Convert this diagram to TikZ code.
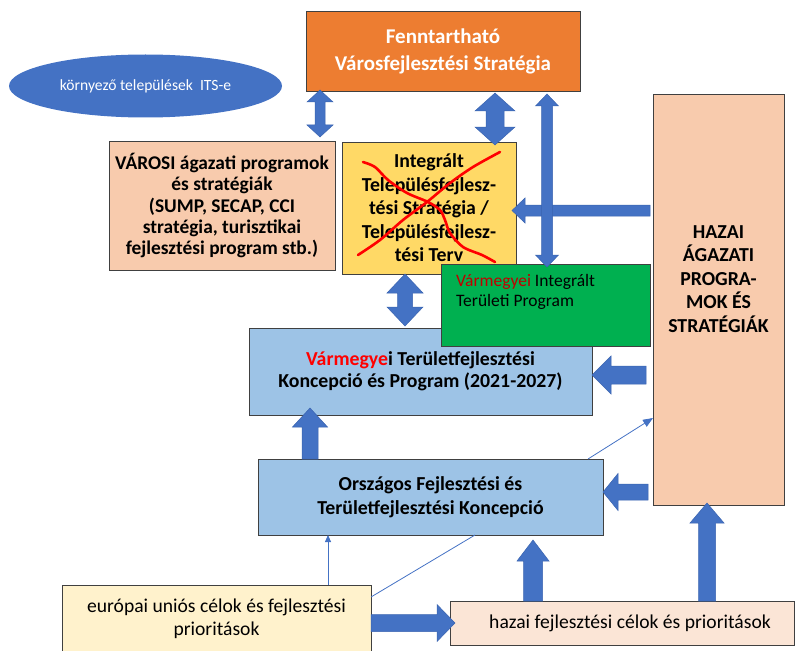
\documentclass[tikz,border=0pt]{standalone}
\usepackage{fontspec}
\setmainfont{Carlito}
\usetikzlibrary{arrows.meta,shapes.geometric,calc}

\definecolor{officeblue}{HTML}{4472C4}
\definecolor{arrowedge}{HTML}{3A64B0}
\definecolor{edgegray}{HTML}{404040}
\definecolor{orangefill}{HTML}{ED7D31}
\definecolor{peach}{HTML}{F8CBAD}
\definecolor{paleorange}{HTML}{FBE5D6}
\definecolor{gold}{HTML}{FFD966}
\definecolor{cream}{HTML}{FFF2CC}
\definecolor{skyfill}{HTML}{9DC3E6}
\definecolor{greenfill}{HTML}{00B050}
\definecolor{brightred}{HTML}{FF0000}
\definecolor{darkred}{HTML}{C00000}

\tikzset{
  ArrShaft/.store in=\ArrShaft, ArrHead/.store in=\ArrHead, ArrLen/.store in=\ArrLen,
  ArrShaft=12, ArrHead=26, ArrLen=12,
  blockfill/.style={fill=officeblue, draw=arrowedge, line width=0.5pt, line join=miter},
  % block arrow with one head, pointing at the target
  onearrow/.style={blockfill, to path={
    let \p1=(\tikztostart), \p2=(\tikztotarget),
        \n1={veclen(\x2-\x1,\y2-\y1)}, \n2={(\x2-\x1)/\n1}, \n3={(\y2-\y1)/\n1},
        \n4={\n1-\ArrLen} in
    ({\x1-(\n3)*\ArrShaft/2},{\y1+(\n2)*\ArrShaft/2})
    -- ({\x1+(\n2)*(\n4)-(\n3)*\ArrShaft/2},{\y1+(\n3)*(\n4)+(\n2)*\ArrShaft/2})
    -- ({\x1+(\n2)*(\n4)-(\n3)*\ArrHead/2},{\y1+(\n3)*(\n4)+(\n2)*\ArrHead/2})
    -- (\x2,\y2)
    -- ({\x1+(\n2)*(\n4)+(\n3)*\ArrHead/2},{\y1+(\n3)*(\n4)-(\n2)*\ArrHead/2})
    -- ({\x1+(\n2)*(\n4)+(\n3)*\ArrShaft/2},{\y1+(\n3)*(\n4)-(\n2)*\ArrShaft/2})
    -- ({\x1+(\n3)*\ArrShaft/2},{\y1-(\n2)*\ArrShaft/2}) -- cycle}},
  % block arrow with heads at both ends
  twoarrow/.style={blockfill, to path={
    let \p1=(\tikztostart), \p2=(\tikztotarget),
        \n1={veclen(\x2-\x1,\y2-\y1)}, \n2={(\x2-\x1)/\n1}, \n3={(\y2-\y1)/\n1},
        \n4={\n1-\ArrLen} in
    (\x1,\y1)
    -- ({\x1+(\n2)*\ArrLen-(\n3)*\ArrHead/2},{\y1+(\n3)*\ArrLen+(\n2)*\ArrHead/2})
    -- ({\x1+(\n2)*\ArrLen-(\n3)*\ArrShaft/2},{\y1+(\n3)*\ArrLen+(\n2)*\ArrShaft/2})
    -- ({\x1+(\n2)*(\n4)-(\n3)*\ArrShaft/2},{\y1+(\n3)*(\n4)+(\n2)*\ArrShaft/2})
    -- ({\x1+(\n2)*(\n4)-(\n3)*\ArrHead/2},{\y1+(\n3)*(\n4)+(\n2)*\ArrHead/2})
    -- (\x2,\y2)
    -- ({\x1+(\n2)*(\n4)+(\n3)*\ArrHead/2},{\y1+(\n3)*(\n4)-(\n2)*\ArrHead/2})
    -- ({\x1+(\n2)*(\n4)+(\n3)*\ArrShaft/2},{\y1+(\n3)*(\n4)-(\n2)*\ArrShaft/2})
    -- ({\x1+(\n2)*\ArrLen+(\n3)*\ArrShaft/2},{\y1+(\n3)*\ArrLen-(\n2)*\ArrShaft/2})
    -- ({\x1+(\n2)*\ArrLen+(\n3)*\ArrHead/2},{\y1+(\n3)*\ArrLen-(\n2)*\ArrHead/2})
    -- cycle}},
  box/.style={rectangle, draw=edgegray, line width=0.9pt, inner sep=0pt, outer sep=0pt,
    align=center, text=black},
  boldtext/.style={font=\fontsize{19.8}{#1}\selectfont\bfseries},
  plaintext/.style={font=\fontsize{19.6}{#1}\selectfont},
  thinline/.style={draw=officeblue, line width=0.8pt},
  thinarrow/.style={thinline, -{Triangle[length=10pt,width=8pt]}},
  thinarrowsmall/.style={thinline, -{Triangle[length=7pt,width=6pt]}},
  crossout/.style={draw=brightred, line width=2.6pt, line cap=round, line join=round},
}

\begin{document}
\begin{tikzpicture}[x=1pt,y=-1pt]
\useasboundingbox (0,0) rectangle (797,650);

% strategy boxes
\node[box, fill=orangefill, minimum width=274pt, minimum height=80pt, text=white,
      font=\fontsize{21}{27}\selectfont\bfseries] (fvs) at (443,51)
      {Fenntartható\\Városfejlesztési Stratégia};

\node[ellipse, fill=officeblue, minimum width=273pt, minimum height=63pt, inner sep=0pt,
      text=white, font=\fontsize{15.6}{18}\selectfont] (its) at (145.5,86)
      {környező települések\ \ ITS-e};

\node[box, fill=peach, minimum width=226pt, minimum height=129pt,
      font=\fontsize{19.4}{21.3}\selectfont\bfseries] (varosi) at (222,205.5)
      {VÁROSI ágazati programok\\és stratégiák\\(SUMP, SECAP, CCI\\stratégia, turisztikai\\fejlesztési program stb.)};

\node[box, fill=gold, minimum width=174pt, minimum height=132pt, boldtext=23.5] (integ) at (429,208)
      {Integrált\\Településfejlesz-\\tési Stratégia /\\Településfejlesz-\\tési Terv};

\node[box, fill=peach, minimum width=131pt, minimum height=411pt] (hz) at (718.5,299.5) {};
\node[align=center, inner sep=0pt, boldtext=23.5] (hztext) at ([yshift=20.5pt]hz.center)
      {HAZAI\\ÁGAZATI\\PROGRA-\\MOK ÉS\\STRATÉGIÁK};

\node[box, fill=skyfill, minimum width=343pt, minimum height=87pt, boldtext=22] (varm) at (420.5,371.5)
      {\textcolor{brightred}{Vármegye}i Területfejlesztési\\Koncepció és Program (2021-2027)};

\node[box, fill=skyfill, minimum width=345pt, minimum height=76pt, boldtext=24] (orsz) at (430.5,497)
      {Országos Fejlesztési és\\Területfejlesztési Koncepció};

\node[box, fill=cream, minimum width=309pt, minimum height=67pt, plaintext=23] (europ) at (216.5,618.5)
      {európai uniós célok és fejlesztési\\prioritások};

\node[box, fill=paleorange, minimum width=344pt, minimum height=44pt, plaintext=23] (hcel) at (622,623)
      {\hspace*{16pt}hazai fejlesztési célok és prioritások};

% the superseded plan is crossed out
\draw[crossout] plot[smooth] coordinates {(363,162) (375,167) (388,180) (407,193) (428,202)
      (440,210) (445,220) (450,233) (463,247) (482,255) (495,262)};
\draw[crossout] plot[smooth] coordinates {(358,255) (380,240) (403,220) (427,202) (450,183)
      (473,167) (500,152)};

\node[box, fill=greenfill, minimum width=209pt, minimum height=82pt] (vitp) at (545.5,305) {};
\node[anchor=north west, align=left, inner sep=0pt, font=\fontsize{17.5}{20}\selectfont] (vitptext)
      at ([xshift=15pt,yshift=-10pt]vitp.north west)
      {\textcolor{darkred}{Vármegyei} Integrált\\Területi Program};

% block arrows
\path[twoarrow, ArrShaft=10, ArrHead=26, ArrLen=12]
      ([yshift=1pt]fvs.south -| 320,0) to ([yshift=4pt]varosi.north -| 320,0);
\path[twoarrow, ArrShaft=18, ArrHead=40, ArrLen=18]
      ([yshift=-2pt]fvs.south -| 495,0) to ([yshift=-3pt]integ.north -| 495,0);
\path[onearrow, ArrShaft=11, ArrHead=25, ArrLen=13]
      ([xshift=-3pt]hz.west |- 0,210.5) to ([xshift=-4pt]integ.east |- 0,210.5);
\path[twoarrow, ArrShaft=11, ArrHead=23, ArrLen=12]
      ([yshift=-3pt]fvs.south -| 547,0) to ([yshift=-3pt]vitp.north -| 547,0);
\path[twoarrow, ArrShaft=15, ArrHead=36, ArrLen=19]
      (integ.south -| 405,0) to ([yshift=2pt]varm.north -| 405,0);
\path[onearrow, ArrShaft=18, ArrHead=38, ArrLen=19]
      ([xshift=-7pt]hz.west |- 0,375) to (varm.east |- 0,375);
\path[onearrow, ArrShaft=16, ArrHead=35, ArrLen=19]
      (orsz.north -| 310,0) to ([yshift=7pt]varm.south -| 310,0);
\path[onearrow, ArrShaft=16, ArrHead=37, ArrLen=15]
      ([xshift=-5pt]hz.west |- 0,492) to (orsz.east |- 0,492);
\path[onearrow, ArrShaft=19, ArrHead=32, ArrLen=21]
      (hcel.north -| 533,0) to ([yshift=-5pt]orsz.south -| 533,0);
\path[onearrow, ArrShaft=17, ArrHead=34, ArrLen=20]
      (hcel.north -| 707,0) to ([yshift=2pt]hz.south -| 707,0);
\path[onearrow, ArrShaft=17, ArrHead=37, ArrLen=18]
      (europ.east |- 0,623) to ([xshift=5pt]hcel.west |- 0,623);

% thin connectors
\draw[thinarrow] (orsz.north -| 588,0) -- (hz.west |- 0,418);
\draw[thinline] (europ.east |- 0,597) -- (orsz.south -| 475,0);
\draw[thinarrowsmall] (europ.north -| 328,0) -- (orsz.south -| 328,0);
\end{tikzpicture}
\end{document}
